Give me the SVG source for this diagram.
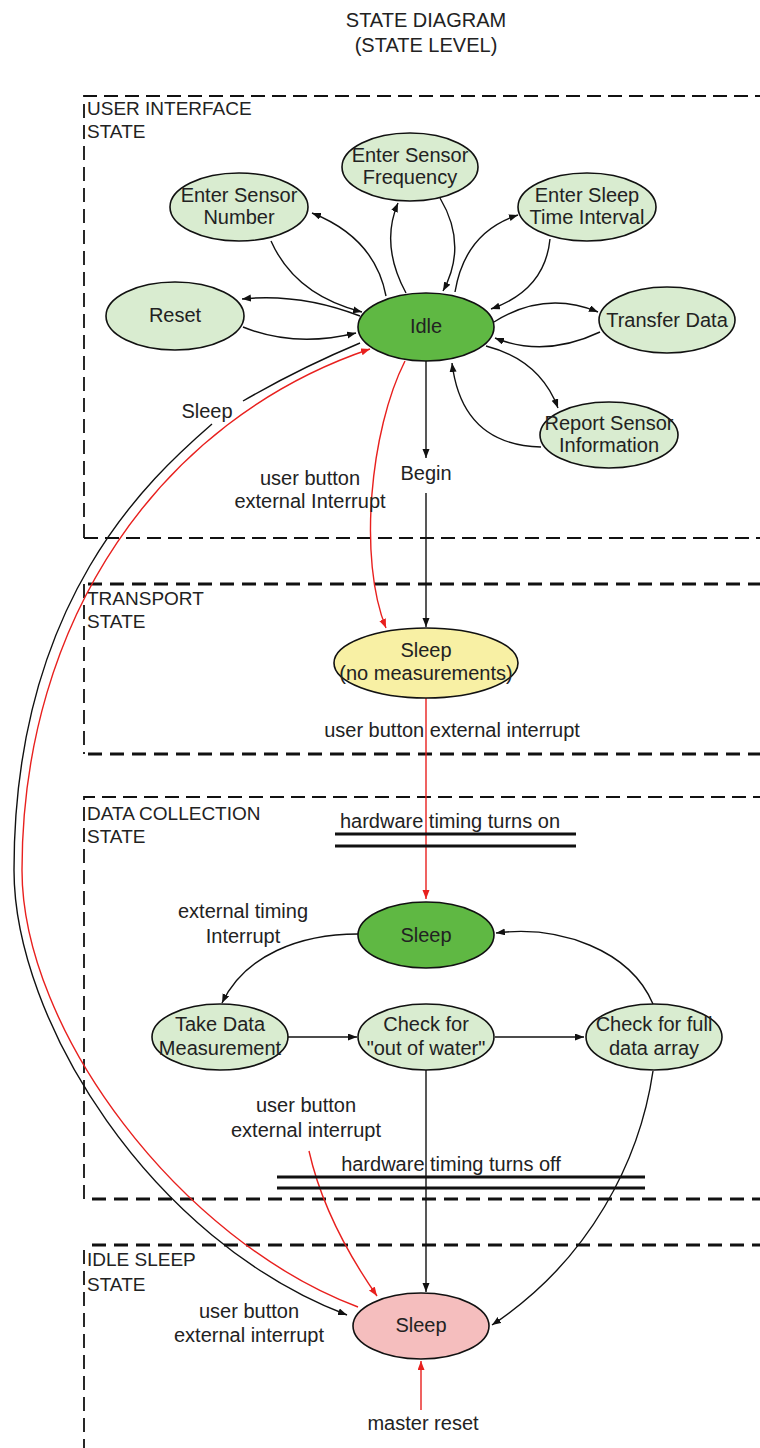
<svg xmlns="http://www.w3.org/2000/svg" width="760" height="1448" viewBox="0 0 760 1448">
<style>
text{font-family:"Liberation Sans",Arial,sans-serif;fill:#222;}
.t{font-size:20px;text-anchor:middle;}
.sec{font-size:19px;}
.ttl{font-size:20px;text-anchor:middle;}
.node{stroke:#111;stroke-width:1.6;}
.lg{fill:#d9ecd0;}
.dg{fill:#5fb843;}
.yl{fill:#f8f0a4;}
.pk{fill:#f5bebe;}
.c{fill:none;stroke:#111;stroke-width:1.4;}
.r{fill:none;stroke:#e8201e;stroke-width:1.4;}
.a{marker-end:url(#arr);}
.ar{marker-end:url(#arrR);}
.dthin{fill:none;stroke:#111;stroke-width:1.8;stroke-dasharray:14 7;}
.dthick{fill:none;stroke:#111;stroke-width:3;stroke-dasharray:14 8;}
.dbl{stroke:#111;stroke-width:3;}
</style>
<defs>
<marker id="arr" markerUnits="userSpaceOnUse" markerWidth="10" markerHeight="8" refX="9" refY="3.5" orient="auto"><path d="M0,0 L9,3.5 L0,7 z" fill="#111"/></marker>
<marker id="arrR" markerUnits="userSpaceOnUse" markerWidth="10" markerHeight="8" refX="9" refY="3.5" orient="auto"><path d="M0,0 L9,3.5 L0,7 z" fill="#e8201e"/></marker>
</defs>
<rect width="760" height="1448" fill="#fff"/>

<g id="title">
<text class="ttl" x="426" y="27">STATE DIAGRAM</text>
<text class="ttl" x="426" y="52">(STATE LEVEL)</text>
</g>

<g id="sections">
<path class="dthin" d="M84,538 L84,96 L760,96"/>
<path class="dthin" d="M84,538 L760,538"/>
<text class="sec" x="87" y="115">USER INTERFACE</text>
<text class="sec" x="87" y="138">STATE</text>
<path class="dthick" d="M88,584 L760,584"/>
<path class="dthin" d="M84,584 L84,754"/>
<path class="dthick" d="M88,754 L760,754"/>
<text class="sec" x="87" y="605">TRANSPORT</text>
<text class="sec" x="87" y="628">STATE</text>
<path class="dthin" d="M84,1199 L84,797 L760,797"/>
<path class="dthick" d="M92,1199 L760,1199"/>
<text class="sec" x="87" y="820">DATA COLLECTION</text>
<text class="sec" x="87" y="843">STATE</text>
<path class="dthick" d="M92,1245 L760,1245"/>
<path class="dthin" d="M84,1250 L84,1448"/>
<text class="sec" x="87" y="1266">IDLE SLEEP</text>
<text class="sec" x="87" y="1291">STATE</text>
</g>

<g id="connectors">
<path class="c a" d="M386,296 Q375,238 312,213"/>
<path class="c a" d="M271,241 Q295,295 362,312"/>
<path class="c a" d="M360,316 Q300,293 242,299"/>
<path class="c a" d="M243,327 Q295,348 356,333"/>
<path class="c a" d="M406,293 Q380,245 398,203"/>
<path class="c a" d="M440,198 Q468,245 443,291"/>
<path class="c a" d="M455,292 Q465,232 518,215"/>
<path class="c a" d="M550,239 Q545,290 491,309"/>
<path class="c a" d="M494,322 Q545,290 598,312"/>
<path class="c a" d="M600,332 Q545,358 495,338"/>
<path class="c a" d="M486,346 Q540,360 558,408"/>
<path class="c a" d="M541,447 Q462,445 452,363"/>
<path class="c a" d="M426,361 L426,458"/>
<path class="c a" d="M426,493 L426,627"/>
<path class="r ar" d="M405,361 C370,430 358,560 386,628"/>
<path class="c" d="M360,343 Q300,368 243,401"/>
<path class="c a" d="M212,424 C150,478 14,600 14,870 C14,1020 150,1240 347,1315"/>
<path class="r ar" d="M358,1307 C180,1240 22,1030 22,870 C22,620 160,420 370,349"/>
<path class="r ar" d="M426,698 L426,899"/>
<path class="c a" d="M358,934 C300,934 245,955 222,1003"/>
<path class="c a" d="M288,1037 L357,1037"/>
<path class="c a" d="M495,1037 L584,1037"/>
<path class="c a" d="M653,1004 C630,950 560,925 496,933"/>
<path class="c a" d="M426,1070 L426,1292"/>
<path class="c a" d="M653,1071 C640,1160 590,1260 492,1325"/>
<path class="r ar" d="M309,1151 C320,1200 345,1250 377,1296"/>
<path class="r ar" d="M421,1410 L421,1361"/>
<line class="dbl" x1="335" y1="834" x2="576" y2="834"/>
<line class="dbl" x1="335" y1="846" x2="576" y2="846"/>
<line class="dbl" x1="277" y1="1177" x2="645" y2="1177"/>
<line class="dbl" x1="277" y1="1188" x2="645" y2="1188"/>
</g>

<g id="labels">
<text class="t" x="207" y="418">Sleep</text>
<text class="t" x="310" y="485">user button</text>
<text class="t" x="310" y="508">external Interrupt</text>
<text class="t" x="426" y="480">Begin</text>
<text class="t" x="452" y="737">user button external interrupt</text>
<text class="t" x="450" y="828">hardware timing turns on</text>
<text class="t" x="243" y="918">external timing</text>
<text class="t" x="243" y="943">Interrupt</text>
<text class="t" x="306" y="1112">user button</text>
<text class="t" x="306" y="1137">external interrupt</text>
<text class="t" x="451" y="1171">hardware timing turns off</text>
<text class="t" x="249" y="1318">user button</text>
<text class="t" x="249" y="1342">external interrupt</text>
<text class="t" x="423" y="1430">master reset</text>
</g>

<g id="n-number"><ellipse class="node lg" cx="239" cy="207" rx="69" ry="34"/><text class="t" x="239" y="202">Enter Sensor</text><text class="t" x="239" y="224">Number</text></g>
<g id="n-frequency"><ellipse class="node lg" cx="410" cy="167" rx="68" ry="34"/><text class="t" x="410" y="162">Enter Sensor</text><text class="t" x="410" y="184">Frequency</text></g>
<g id="n-interval"><ellipse class="node lg" cx="587" cy="207" rx="69" ry="34"/><text class="t" x="587" y="202">Enter Sleep</text><text class="t" x="587" y="224">Time Interval</text></g>
<g id="n-reset"><ellipse class="node lg" cx="175" cy="316" rx="69" ry="34"/><text class="t" x="175" y="322">Reset</text></g>
<g id="n-idle"><ellipse class="node dg" cx="426" cy="327" rx="68" ry="34"/><text class="t" x="426" y="333">Idle</text></g>
<g id="n-transfer"><ellipse class="node lg" cx="667" cy="320" rx="68" ry="33"/><text class="t" x="667" y="327">Transfer Data</text></g>
<g id="n-report"><ellipse class="node lg" cx="609" cy="435" rx="69" ry="33"/><text class="t" x="609" y="430">Report Sensor</text><text class="t" x="609" y="452">Information</text></g>
<g id="n-transport-sleep"><ellipse class="node yl" cx="426" cy="663" rx="92" ry="35"/><text class="t" x="426" y="657">Sleep</text><text class="t" x="426" y="680">(no measurements)</text></g>
<g id="n-dc-sleep"><ellipse class="node dg" cx="426" cy="935" rx="68" ry="33"/><text class="t" x="426" y="942">Sleep</text></g>
<g id="n-take"><ellipse class="node lg" cx="220" cy="1037" rx="68" ry="33"/><text class="t" x="220" y="1031">Take Data</text><text class="t" x="220" y="1055">Measurement</text></g>
<g id="n-water"><ellipse class="node lg" cx="426" cy="1037" rx="68" ry="33"/><text class="t" x="426" y="1031">Check for</text><text class="t" x="426" y="1055">"out of water"</text></g>
<g id="n-full"><ellipse class="node lg" cx="654" cy="1037" rx="68" ry="33"/><text class="t" x="654" y="1031">Check for full</text><text class="t" x="654" y="1055">data array</text></g>
<g id="n-idle-sleep"><ellipse class="node pk" cx="421" cy="1326" rx="68" ry="33"/><text class="t" x="421" y="1332">Sleep</text></g>
</svg>
